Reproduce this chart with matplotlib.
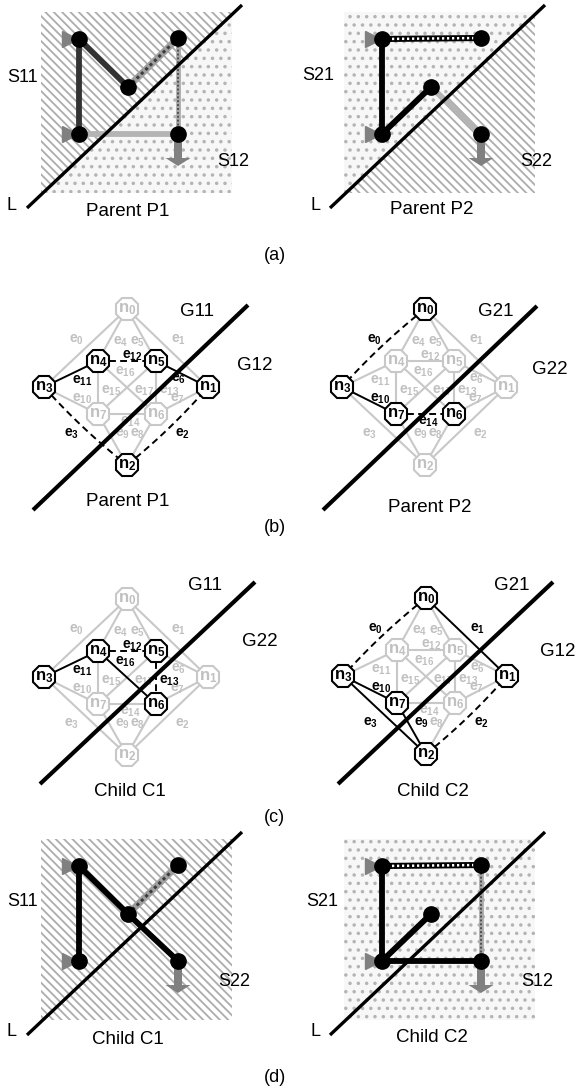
import numpy as np
import matplotlib.pyplot as plt
from matplotlib.patches import Rectangle, Polygon

plt.rcParams['font.family'] = ['Liberation Sans', 'DejaVu Sans']
plt.rcParams['mathtext.fontset'] = 'custom'
plt.rcParams['mathtext.rm'] = 'Liberation Sans'
plt.rcParams['mathtext.bf'] = 'Liberation Sans:bold'
plt.rcParams['hatch.linewidth'] = 1.3

# ---------------- data: (a), (d) path panels ----------------
path_names = ['A', 'B', 'C', 'D', 'E']
path_x = [79, 178, 128, 79, 178]
path_y = [39, 38, 87, 134, 134]
square = (41, 12, 232, 193)          # x1, y1, x2, y2 (relative)
cut_line = ((27, 208), (242, 5))     # separator L (relative)

path_panels = [
    dict(org=(0, 0), fill='hatch/dots',
         edges=[('A', 'C', 'dark'), ('A', 'D', 'dark'), ('C', 'B', 'check'),
                ('B', 'E', 'stripe'), ('D', 'E', 'light')],
         labels=[('S11', 23, 77), ('S12', 233, 161)],
         caption=('Parent P1', 128, 212)),
    dict(org=(303, 0), fill='dots/hatch',
         edges=[('A', 'B', 'chain'), ('A', 'D', 'black'), ('D', 'C', 'black'),
                ('C', 'E', 'light')],
         labels=[('S21', 15, 76), ('S22', 233, 161)],
         caption=('Parent P2', 129, 210)),
    dict(org=(0, 827), fill='hatch',
         edges=[('A', 'D', 'black'), ('A', 'C', 'black'), ('C', 'E', 'black'),
                ('C', 'B', 'check')],
         labels=[('S11', 23, 75), ('S22', 234, 154)],
         caption=('Child C1', 128, 212)),
    dict(org=(303, 827), fill='dots',
         edges=[('A', 'B', 'chain'), ('B', 'E', 'stripe'), ('A', 'D', 'black'),
                ('D', 'C', 'black'), ('D', 'E', 'black')],
         labels=[('S21', 19, 75), ('S12', 234, 154)],
         caption=('Child C2', 129, 210)),
]

# ---------------- data: (b), (c) graph panels ----------------
node_dx = [0, 81, 0, -83, -29, 29, 29, -29]
node_dy = [-78, 0, 78, 0, -26, -26, 27, 27]
graph_edges = [(0, 3), (0, 1), (2, 1), (3, 2), (0, 4), (0, 5), (5, 1), (1, 6), (6, 2),
               (7, 2), (3, 7), (3, 4), (4, 5), (5, 6), (7, 6), (4, 7), (4, 6), (5, 7)]
elabel_dx = [-51, 51, 55, -55, -6, 11, 51, 50, 10, -5, -45, -45, 5, 42, 3, -16, -2, 17]
elabel_dy = [-47, -47, 47, 47, -45, -45, -8, 12, 47, 47, 12, -6, -31, 4, 35, 4, -15, 4]

graph_panels = [
    dict(center=(127, 387), nodes=[1, 2, 3, 4, 5], solid=[11, 6], dashed=[12, 3, 2],
         line=((33, 510), (248, 305)),
         labels=[('G11', 197, 312), ('G12', 255, 365)], caption=('Parent P1', 128, 501)),
    dict(center=(425, 387), nodes=[0, 3, 6, 7], solid=[10], dashed=[0, 14],
         line=((323, 510), (537, 306)),
         labels=[('G21', 496, 312), ('G22', 550, 370)], caption=('Parent P2', 430, 508)),
    dict(center=(127, 677), nodes=[3, 4, 5, 6], solid=[11, 16], dashed=[12, 13],
         line=((40, 784), (255, 582)),
         labels=[('G11', 205, 585), ('G22', 260, 641)], caption=('Child C1', 130, 791)),
    dict(center=(426, 676), nodes=[0, 1, 2, 3, 7], solid=[1, 3, 10, 9], dashed=[0, 2],
         line=((338, 784), (553, 582)),
         labels=[('G21', 512, 585), ('G12', 558, 652)], caption=('Child C2', 433, 791)),
]

sub_labels = [('(a)', 275, 255), ('(b)', 275, 527), ('(c)', 274, 817), ('(d)', 275, 1078)]

GRAY = '#c8c8c8'

fig = plt.figure(figsize=(5.78, 10.91), dpi=100)
ax = fig.add_axes([0, 0, 1, 1])
ax.set_xlim(0, 578)
ax.set_ylim(1091, 0)
ax.axis('off')


def half_plane(p1, p2, far):
    # 분리선의 한쪽 반평면을 큰 삼각형으로 만든다
    p1 = np.array(p1, float)
    p2 = np.array(p2, float)
    d = p2 - p1
    verts = [p1 - 20 * d, p1 + 20 * d, far]
    return Polygon(verts, closed=True, transform=ax.transData)


def fill_patch(x0, y0, kind):
    x1, y1, x2, y2 = square
    if kind == 'hatch':
        p = Rectangle((x0 + x1, y0 + y1), x2 - x1, y2 - y1, facecolor='white',
                      edgecolor='#acacac', hatch='\\\\\\\\', lw=0, zorder=1)
    else:
        p = Rectangle((x0 + x1, y0 + y1), x2 - x1, y2 - y1, facecolor='#f7f7f7',
                      edgecolor='#b4b4b4', hatch='..', lw=0, zorder=1)
    ax.add_patch(p)
    return p


def draw_edge(xa, ya, xb, yb, style):
    kw = dict(solid_capstyle='butt', zorder=3)
    if style == 'black':
        ax.plot([xa, xb], [ya, yb], color='black', lw=4.2, **kw)
    elif style == 'dark':
        ax.plot([xa, xb], [ya, yb], color='#333333', lw=4.2, **kw)
    elif style == 'light':
        ax.plot([xa, xb], [ya, yb], color='#b4b4b4', lw=4.2, **kw)
    elif style == 'check':
        ax.plot([xa, xb], [ya, yb], color='#a0a0a0', lw=5, **kw)
        ax.plot([xa, xb], [ya, yb], color='#3c3c3c', lw=2.2, dashes=(1, 1), **kw)
    elif style == 'stripe':
        ax.plot([xa, xb], [ya, yb], color='#a8a8a8', lw=3.4, **kw)
        ax.plot([xa, xb], [ya, yb], color='#505050', lw=1.4, dashes=(1, 1), **kw)
    elif style == 'chain':
        ax.plot([xa, xb], [ya, yb], color='black', lw=4.4, **kw)
        ax.plot([xa, xb], [ya, yb], color='white', lw=1.8, dashes=(0.9, 1.1), **kw)


# ---------------- (a), (d) ----------------
for pan in path_panels:
    ox, oy = pan['org']
    p1 = (ox + cut_line[0][0], oy + cut_line[0][1])
    p2 = (ox + cut_line[1][0], oy + cut_line[1][1])
    if '/' in pan['fill']:
        upper, lower = pan['fill'].split('/')
        pu = fill_patch(ox, oy, upper)
        pu.set_clip_path(half_plane(p1, p2, (ox - 3000, oy - 3000)))
        pl = fill_patch(ox, oy, lower)
        pl.set_clip_path(half_plane(p1, p2, (ox + 3000, oy + 3000)))
    else:
        fill_patch(ox, oy, pan['fill'])

    px = {n: ox + x for n, x in zip(path_names, path_x)}
    py = {n: oy + y for n, y in zip(path_names, path_y)}
    for a, b, st in pan['edges']:
        draw_edge(px[a], py[a], px[b], py[b], st)

    # 입력 삼각형, 출력 화살표
    ax.plot([px['A'] - 9, px['D'] - 9], [py['A'], py['D']], '>', color='#808080',
            ms=11, zorder=2.5)
    ax.arrow(px['E'], py['E'], 0, 32, width=8, head_width=25, head_length=8,
             length_includes_head=True, color='#808080', lw=0, zorder=2.5)
    ax.plot([p1[0], p2[0]], [p1[1], p2[1]], color='black', lw=2.4,
            solid_capstyle='butt', zorder=4)
    ax.plot([px[n] for n in path_names], [py[n] for n in path_names], 'o',
            color='black', ms=11, zorder=5)

    for txt, x, y in pan['labels']:
        ax.text(ox + x, oy + y, txt, fontsize=13, ha='center', va='center')
    ax.text(ox + 12, oy + 205, 'L', fontsize=13, ha='center', va='center')
    cap, cx, cy = pan['caption']
    ax.text(ox + cx, oy + cy, cap, fontsize=13.5, ha='center', va='center')

# ---------------- (b), (c) ----------------
for pan in graph_panels:
    cx, cy = pan['center']
    nx = [cx + d for d in node_dx]
    ny = [cy + d for d in node_dy]
    hl = set(pan['solid']) | set(pan['dashed'])
    for i, (a, b) in enumerate(graph_edges):
        if i in hl:
            continue
        ax.plot([nx[a], nx[b]], [ny[a], ny[b]], color=GRAY, lw=1.5, zorder=2)
    for i in pan['solid']:
        a, b = graph_edges[i]
        ax.plot([nx[a], nx[b]], [ny[a], ny[b]], color='black', lw=1.4, zorder=3)
    for i in pan['dashed']:
        a, b = graph_edges[i]
        xs = np.array([nx[a], nx[b]], float)
        ys = np.array([ny[a], ny[b]], float)
        if i <= 3:
            # 바깥 테두리 간선은 약간 바깥쪽으로 휘게
            mx, my = xs.mean(), ys.mean()
            v = np.array([mx - cx, my - cy])
            v = v / np.linalg.norm(v) * 5
            t = np.linspace(0, 1, 30)
            qx = (1 - t) ** 2 * xs[0] + 2 * t * (1 - t) * (mx + v[0]) + t ** 2 * xs[1]
            qy = (1 - t) ** 2 * ys[0] + 2 * t * (1 - t) * (my + v[1]) + t ** 2 * ys[1]
            xs, ys = qx, qy
        ax.plot(xs, ys, color='black', lw=1.4, dashes=(3.5, 2.2), zorder=3)

    for i in range(len(graph_edges)):
        col = 'black' if i in hl else '#c0c0c0'
        ax.text(cx + elabel_dx[i], cy + elabel_dy[i], r'$\mathbf{e_{%d}}$' % i,
                fontsize=10, color=col, ha='center', va='center', zorder=3.5)

    (lx1, ly1), (lx2, ly2) = pan['line']
    ax.plot([lx1, lx2], [ly1, ly2], color='black', lw=3, solid_capstyle='butt', zorder=4)

    for k in range(8):
        on = k in pan['nodes']
        ax.plot(nx[k], ny[k], '8', ms=17, mfc='white', mec='black' if on else GRAY,
                mew=1.5, zorder=5)
        ax.text(nx[k], ny[k], r'$\mathbf{n_{%d}}$' % k, fontsize=12,
                color='black' if on else '#c0c0c0', ha='center', va='center', zorder=6)

    for txt, x, y in pan['labels']:
        ax.text(x, y, txt, fontsize=13.5, ha='center', va='center')
    cap, cx2, cy2 = pan['caption']
    ax.text(cx2, cy2, cap, fontsize=13.5, ha='center', va='center')

for txt, x, y in sub_labels:
    ax.text(x, y, txt, fontsize=13, ha='center', va='center')

fig.savefig('out.png', dpi=100)
